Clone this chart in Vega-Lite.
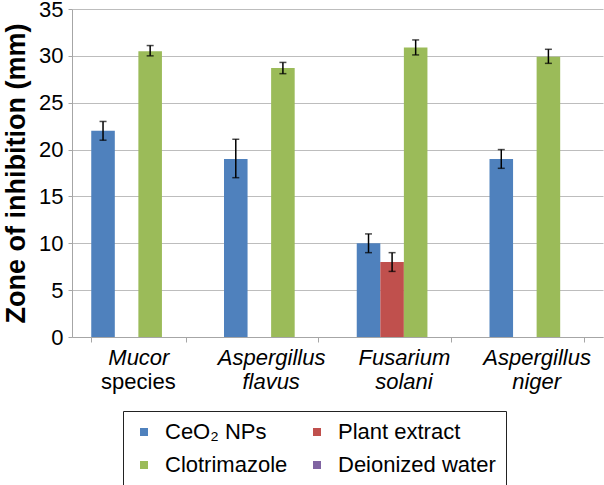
{
  "$schema": "https://vega.github.io/schema/vega-lite/v6.json",
  "width": 531,
  "height": 328,
  "autosize": {"type": "none"},
  "padding": {"left": 72, "top": 9, "right": 1, "bottom": 148},
  "background": "white",
  "config": {"font": "Liberation Sans", "view": {"stroke": null}},
  "datasets": {
    "bars": [
      {"organism": "Mucor species", "treatment": "CeO₂ NPs", "zone": 22, "low": 21, "high": 23},
      {"organism": "Mucor species", "treatment": "Clotrimazole", "zone": 30.5, "low": 30, "high": 31.1},
      {"organism": "Aspergillus flavus", "treatment": "CeO₂ NPs", "zone": 19, "low": 17, "high": 21.1},
      {"organism": "Aspergillus flavus", "treatment": "Clotrimazole", "zone": 28.7, "low": 28.1, "high": 29.3},
      {"organism": "Fusarium solani", "treatment": "CeO₂ NPs", "zone": 10, "low": 9, "high": 11},
      {"organism": "Fusarium solani", "treatment": "Plant extract", "zone": 8, "low": 7, "high": 9},
      {"organism": "Fusarium solani", "treatment": "Clotrimazole", "zone": 30.9, "low": 30.1, "high": 31.7},
      {"organism": "Aspergillus niger", "treatment": "CeO₂ NPs", "zone": 19, "low": 18, "high": 20},
      {"organism": "Aspergillus niger", "treatment": "Clotrimazole", "zone": 29.9, "low": 29.2, "high": 30.7}
    ],
    "labels": [
      {"organism": "Mucor species", "line2": "species"},
      {"organism": "Aspergillus flavus", "line2": "flavus"},
      {"organism": "Fusarium solani", "line2": "solani"},
      {"organism": "Aspergillus niger", "line2": "niger"}
    ]
  },
  "layer": [
    {
      "data": {"name": "bars"},
      "mark": {"type": "bar"},
      "encoding": {
        "x": {
          "field": "organism", "type": "nominal",
          "sort": ["Mucor species", "Aspergillus flavus", "Fusarium solani", "Aspergillus niger"],
          "scale": {"domain": ["Mucor species", "Aspergillus flavus", "Fusarium solani", "Aspergillus niger"], "paddingInner": 0.29, "paddingOuter": 0.145},
          "axis": {
            "title": null,
            "labelExpr": "split(datum.label, ' ')[0]",
            "labelFontStyle": "italic",
            "labelFontSize": 22,
            "labelColor": "black",
            "labelPadding": 5,
            "labelAngle": 0,
            "tickBand": "extent",
            "domainColor": "#a6a6a6",
            "tickColor": "#a6a6a6",
            "tickSize": 5
          }
        },
        "xOffset": {
          "field": "treatment", "type": "nominal",
          "scale": {"domain": ["CeO₂ NPs", "Plant extract", "Clotrimazole", "Deionized water"], "paddingInner": 0, "paddingOuter": 0}
        },
        "y": {
          "field": "zone", "type": "quantitative",
          "scale": {"domain": [0, 35]},
          "axis": {
            "title": "Zone of inhibition (mm)",
            "titleFontSize": 27,
            "titleFontWeight": "bold",
            "titleColor": "black",
            "titlePadding": 8,
            "values": [0, 5, 10, 15, 20, 25, 30, 35],
            "labelFontSize": 22,
            "labelColor": "black",
            "labelPadding": 5,
            "tickSize": 4,
            "tickColor": "#a6a6a6",
            "domainColor": "#a6a6a6",
            "gridColor": "#bdbdbd"
          }
        },
        "color": {
          "field": "treatment", "type": "nominal",
          "scale": {"domain": ["CeO₂ NPs", "Plant extract", "Clotrimazole", "Deionized water"], "range": ["#4f81bd", "#c0504d", "#9bbb59", "#8064a2"]},
          "legend": {
            "title": null,
            "orient": "none",
            "legendX": 51,
            "legendY": 402,
            "columns": 2,
            "direction": "horizontal",
            "strokeColor": "#222222",
            "padding": 10,
            "symbolType": "square",
            "symbolSize": 64,
            "symbolStrokeWidth": 0,
            "labelFontSize": 22,
            "labelColor": "black",
            "labelLimit": 0,
            "labelOffset": 10,
            "rowPadding": 11,
            "columnPadding": 18
          }
        }
      }
    },
    {
      "data": {"name": "bars"},
      "mark": {"type": "rule", "color": "black", "strokeWidth": 1.5},
      "encoding": {
        "x": {"field": "organism", "type": "nominal", "sort": ["Mucor species", "Aspergillus flavus", "Fusarium solani", "Aspergillus niger"]},
        "xOffset": {"field": "treatment", "type": "nominal"},
        "y": {"field": "low", "type": "quantitative"},
        "y2": {"field": "high"}
      }
    },
    {
      "data": {"name": "bars"},
      "mark": {"type": "tick", "color": "black", "size": 7, "thickness": 1.5, "orient": "horizontal"},
      "encoding": {
        "x": {"field": "organism", "type": "nominal", "sort": ["Mucor species", "Aspergillus flavus", "Fusarium solani", "Aspergillus niger"]},
        "xOffset": {"field": "treatment", "type": "nominal"},
        "y": {"field": "low", "type": "quantitative"}
      }
    },
    {
      "data": {"name": "bars"},
      "mark": {"type": "tick", "color": "black", "size": 7, "thickness": 1.5, "orient": "horizontal"},
      "encoding": {
        "x": {"field": "organism", "type": "nominal", "sort": ["Mucor species", "Aspergillus flavus", "Fusarium solani", "Aspergillus niger"]},
        "xOffset": {"field": "treatment", "type": "nominal"},
        "y": {"field": "high", "type": "quantitative"}
      }
    },
    {
      "data": {"name": "labels"},
      "mark": {"type": "text", "dy": 52, "baseline": "alphabetic", "fontSize": 22, "color": "black", "fontStyle": {"expr": "datum.line2 === 'species' ? 'normal' : 'italic'"}},
      "encoding": {
        "x": {"field": "organism", "type": "nominal", "sort": ["Mucor species", "Aspergillus flavus", "Fusarium solani", "Aspergillus niger"]},
        "y": {"datum": 0, "type": "quantitative"},
        "text": {"field": "line2"}
      }
    }
  ]
}
